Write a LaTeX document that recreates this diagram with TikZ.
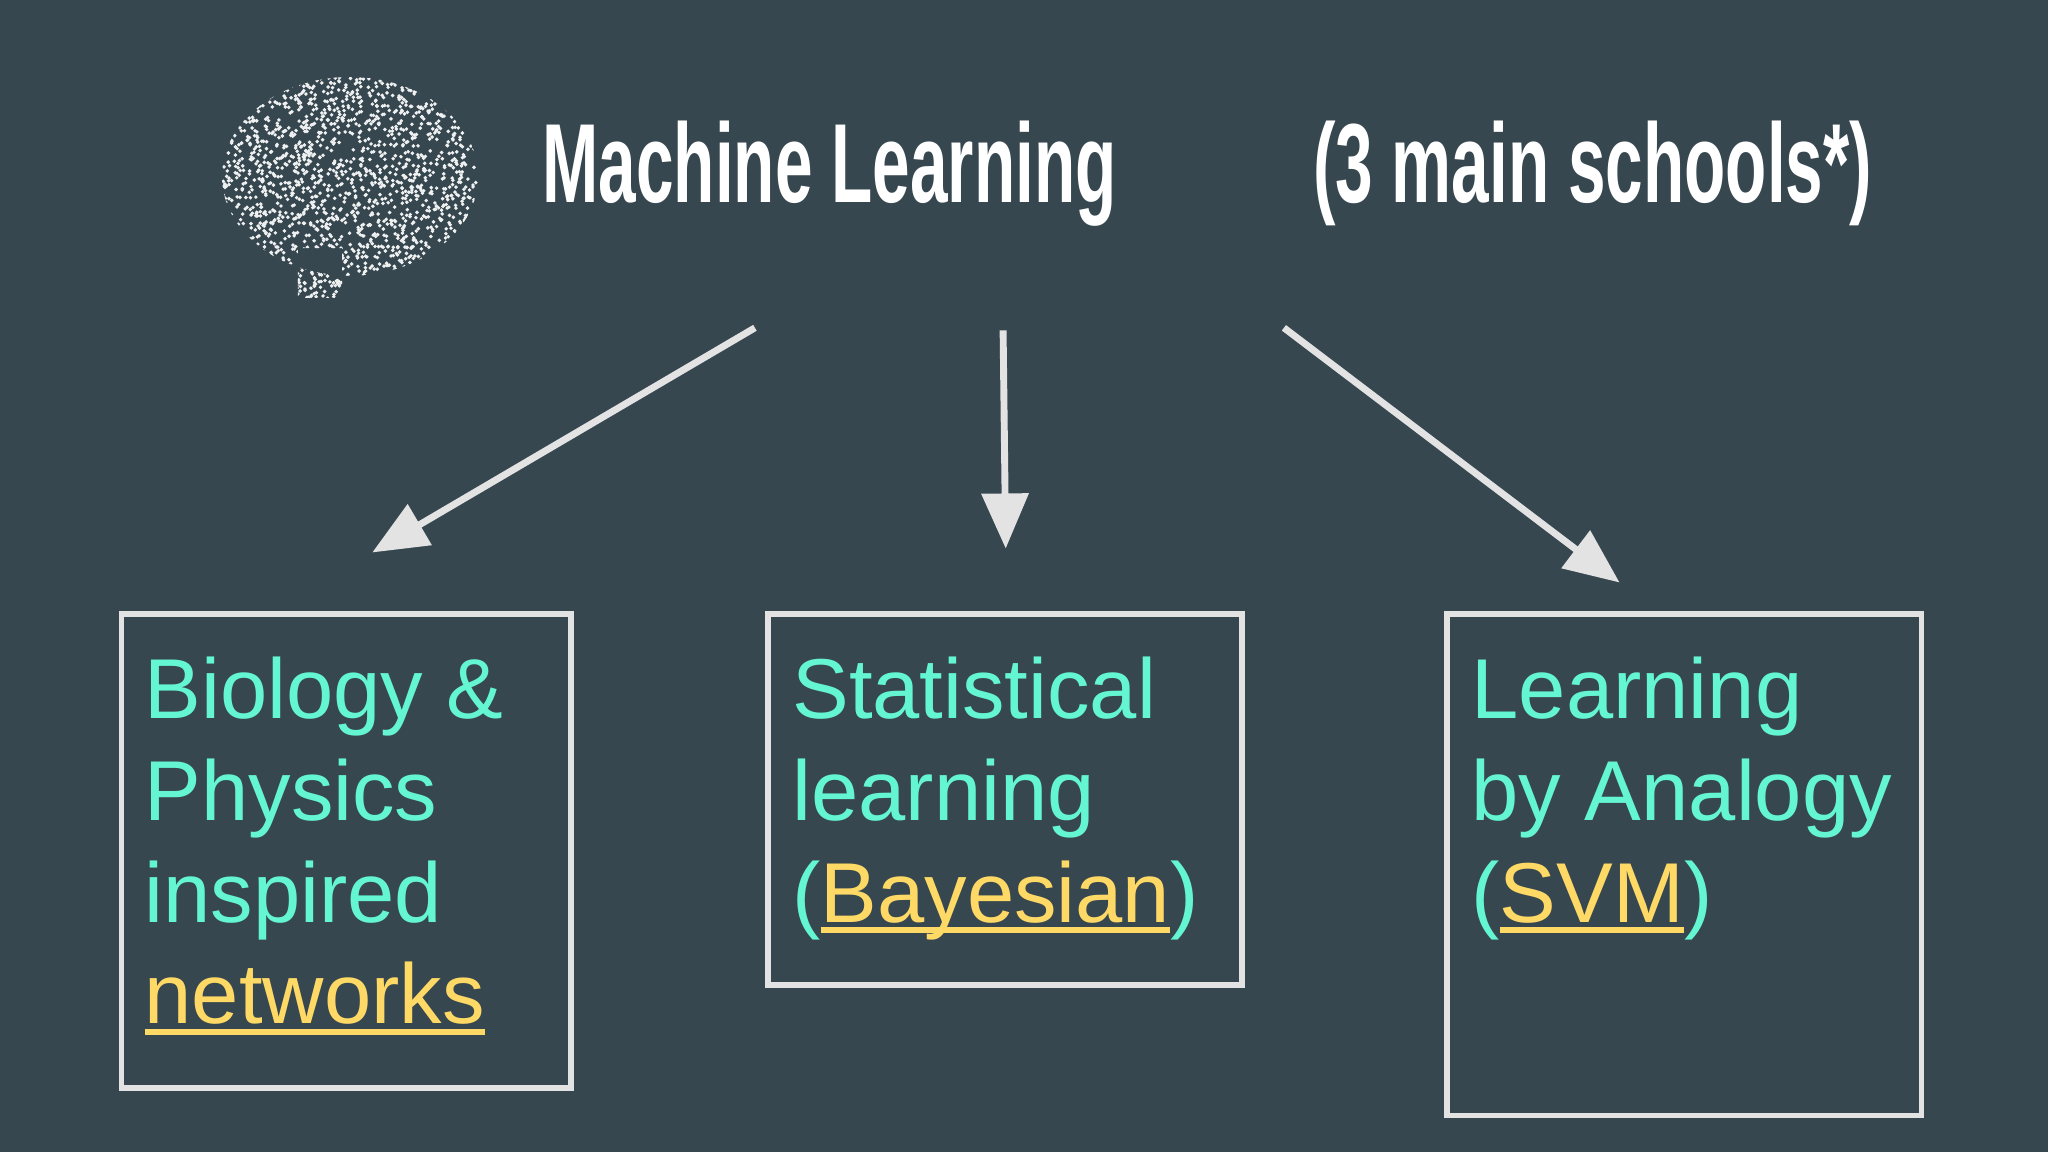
\documentclass[tikz,border=0pt]{standalone}
\usepackage{fontspec}
\setmainfont{Liberation Sans}
\usetikzlibrary{arrows.meta}
\definecolor{bg}{HTML}{37474F}
\definecolor{cy}{HTML}{64F5D2}
\definecolor{yel}{HTML}{FFD966}
\definecolor{ln}{HTML}{E3E3E3}
\newcommand\yul[1]{\setbox0\hbox{#1}\rlap{\rule[-0.13em]{\wd0}{0.07em}}\box0}
\tikzset{
  bx/.style={draw=ln,line width=1.2pt},
  tx/.style={anchor=base west,inner sep=0pt,text=cy,font=\fontsize{18.5pt}{22pt}\selectfont},
  ttl/.style={anchor=base west,inner sep=0pt,text=white,font=\bfseries\fontsize{24.5pt}{28pt}\selectfont,xscale=0.6},
  arr/.style={draw=ln,line width=1.5pt,-{Triangle[length=12pt,width=10pt]}}
}
\begin{document}
\begin{tikzpicture}[x=0.01cm,y=-0.01cm]
\fill[bg] (0,0) rectangle (1568,882);
\useasboundingbox (0,0) rectangle (1568,882);
% brain
\begin{scope}
\clip (268,135) ellipse [x radius=98, y radius=76] (228,190) rectangle (262,228);
\pgfmathsetseed{7}
\foreach \i in {1,...,2000}{
  \fill[white!92!bg] ({170+195*rnd},{57+172*rnd}) circle (1.5);
}
\end{scope}
% titles
\node[ttl] (ml) at (415,155) {Machine Learning};
\node[ttl] (sc) at (1005,155) {(3 main schools*)};
% boxes
\draw[bx] (93,470) rectangle (437,833);
\draw[bx] (588,470) rectangle (951,754);
\draw[bx] (1108,470) rectangle (1471,854);
\coordinate (a1s) at (578,251); \coordinate (a1e) at (285,423);
\coordinate (a2s) at (768,253); \coordinate (a2e) at (770,420);
\coordinate (a3s) at (983,251); \coordinate (a3e) at (1240,446);
\draw[arr] (a1s) -- (a1e);
\draw[arr] (a2s) -- (a2e);
\draw[arr] (a3s) -- (a3e);
% texts
\node[tx] (b1) at (110,550) {Biology \&};
\node[tx] (b2) at (110,628) {Physics};
\node[tx] (b3) at (110,706) {inspired};
\node[tx] (b4) at (110,784) {\textcolor{yel}{\yul{networks}}};
\node[tx] (s1) at (606,550) {Statistical};
\node[tx] (s2) at (606,628) {learning};
\node[tx] (s3) at (606,706) {(\textcolor{yel}{\yul{Bayesian}})};
\node[tx] (l1) at (1126,550) {Learning};
\node[tx] (l2) at (1126,628) {by Analogy};
\node[tx] (l3) at (1126,706) {(\textcolor{yel}{\yul{SVM}})};
\end{tikzpicture}
\end{document}
